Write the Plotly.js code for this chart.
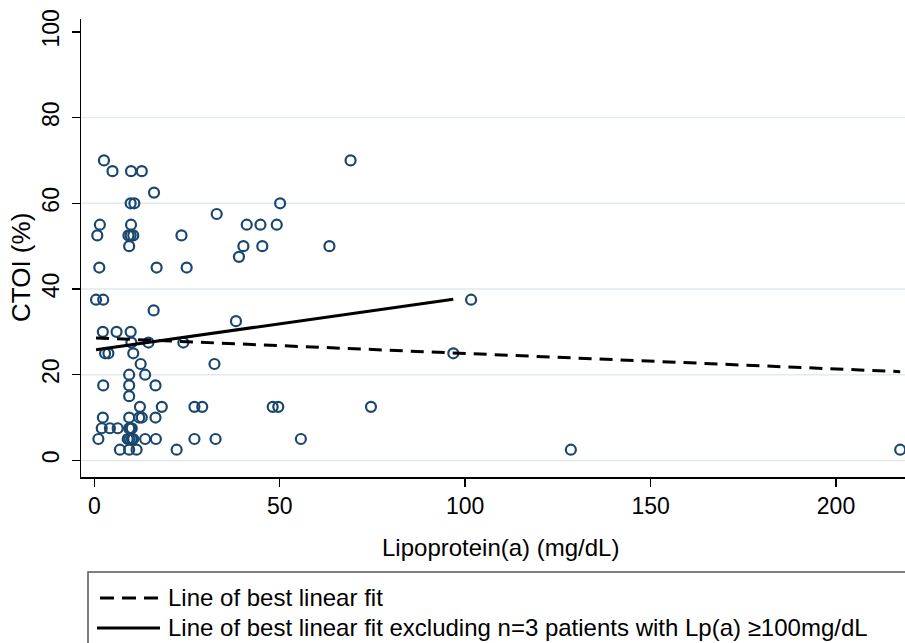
<!DOCTYPE html>
<html>
<head>
<meta charset="utf-8">
<script src="https://cdn.plot.ly/plotly-3.0.1.min.js"></script>
<style>html,body{margin:0;padding:0;background:#fff;}#chart{width:905px;height:643px;}</style>
</head>
<body>
<div id="chart"></div>
<script>
// ---- data ----
var lpa = [
  2.6, 69.1,
  4.9, 9.9, 12.8,
  16.1,
  9.8, 10.8, 50.1,
  33.0,
  1.5, 9.9, 41.1, 44.8, 49.2,
  0.8, 9.2, 9.8, 10.5, 23.5,
  9.4, 40.2, 45.3, 63.4,
  39.0,
  1.35, 16.8, 24.9,
  0.46, 2.4, 101.6,
  16.0,
  38.2,
  2.3, 6.0, 9.8,
  10.0, 14.6, 24.0,
  2.9, 3.8, 10.5, 96.8,
  12.5, 32.4,
  9.4, 13.7,
  2.4, 9.4, 16.5,
  9.4,
  12.3, 18.2, 27.0, 29.1, 48.1, 49.6, 74.6,
  2.3, 9.4, 12.1, 12.8, 16.5,
  2.0, 4.2, 6.3, 9.4, 9.7, 10.1,
  1.1, 9.0, 9.5, 10.1, 10.5, 13.7, 16.6, 27.0, 32.7, 55.7,
  6.9, 9.4, 11.4, 22.2, 128.5, 217.3
];
var ctoi = [
  70, 70,
  67.5, 67.5, 67.5,
  62.5,
  60, 60, 60,
  57.5,
  55, 55, 55, 55, 55,
  52.5, 52.5, 52.5, 52.5, 52.5,
  50, 50, 50, 50,
  47.5,
  45, 45, 45,
  37.5, 37.5, 37.5,
  35,
  32.5,
  30, 30, 30,
  27.5, 27.5, 27.5,
  25, 25, 25, 25,
  22.5, 22.5,
  20, 20,
  17.5, 17.5, 17.5,
  15,
  12.5, 12.5, 12.5, 12.5, 12.5, 12.5, 12.5,
  10, 10, 10, 10, 10,
  7.5, 7.5, 7.5, 7.5, 7.5, 7.5,
  5, 5, 5, 5, 5, 5, 5, 5, 5, 5,
  2.5, 2.5, 2.5, 2.5, 2.5, 2.5
];
// fitted lines (end points)
var fitAllX = [0.46, 217.3];
var fitAllY = [28.58, 20.71];
var fitExclX = [0.46, 96.8];
var fitExclY = [25.83, 37.6];

var xTicks = [0, 50, 100, 150, 200];
var yTicks = [0, 20, 40, 60, 80, 100];
var gridVals = [0, 20, 40, 60, 80];

var xTitle = 'Lipoprotein(a) (mg/dL)';
var yTitle = 'CTOI (%)';
var legendLabels = ['Line of best linear fit',
  'Line of best linear fit excluding n=3 patients with Lp(a) \u2265100mg/dL'];

// ---- layout helpers (pixel -> paper) ----
var W = 905, H = 643;
var M = {l: 81, r: 0, t: 19, b: 166};
var PW = W - M.l - M.r, PH = H - M.t - M.b;
function px(x) { return (x - M.l) / PW; }
function py(y) { return (H - M.b - y) / PH; }

var FONT = '"Liberation Sans", Arial, sans-serif';
var navy = '#1a476f';

var traces = [
  {x: lpa, y: ctoi, type: 'scatter', mode: 'markers',
   marker: {symbol: 'circle-open', size: 10, color: navy, line: {width: 2.2, color: navy}},
   hoverinfo: 'x+y', showlegend: false},
  {x: fitAllX, y: fitAllY, type: 'scatter', mode: 'lines',
   line: {color: '#000', width: 3, dash: '13px,8px'}, showlegend: false},
  {x: fitExclX, y: fitExclY, type: 'scatter', mode: 'lines',
   line: {color: '#000', width: 3}, showlegend: false}
];

var shapes = gridVals.map(function (v) {
  return {type: 'line', xref: 'paper', x0: 0, x1: 1, yref: 'y', y0: v, y1: v,
          line: {color: '#e1eaee', width: 1.5}, layer: 'below'};
});
shapes.push({type: 'rect', xref: 'paper', yref: 'paper',
  x0: px(88), x1: px(930), y0: py(572), y1: py(680),
  line: {color: '#555', width: 1.5}, fillcolor: 'rgba(0,0,0,0)'});
shapes.push({type: 'line', xref: 'paper', yref: 'paper',
  x0: px(100), x1: px(158), y0: py(598), y1: py(598),
  line: {color: '#000', width: 3, dash: '14px,8px'}});
shapes.push({type: 'line', xref: 'paper', yref: 'paper',
  x0: px(97), x1: px(160), y0: py(628), y1: py(628),
  line: {color: '#000', width: 3}});

var annotations = [
  {text: xTitle, xref: 'paper', yref: 'paper', x: px(500), y: py(547),
   xanchor: 'center', yanchor: 'middle', showarrow: false,
   font: {family: FONT, size: 24, color: '#000'}},
  {text: yTitle, xref: 'paper', yref: 'paper', x: px(21), y: py(268),
   xanchor: 'center', yanchor: 'middle', showarrow: false, textangle: -90,
   font: {family: FONT, size: 26, color: '#000'}},
  {text: legendLabels[0], xref: 'paper', yref: 'paper', x: px(166), y: py(597),
   xanchor: 'left', yanchor: 'middle', showarrow: false,
   font: {family: FONT, size: 24, color: '#000'}},
  {text: legendLabels[1], xref: 'paper', yref: 'paper', x: px(166), y: py(627),
   xanchor: 'left', yanchor: 'middle', showarrow: false,
   font: {family: FONT, size: 24, color: '#000'}}
];

var layout = {
  width: W, height: H, margin: M,
  paper_bgcolor: '#fff', plot_bgcolor: '#fff',
  showlegend: false,
  font: {family: FONT, color: '#000'},
  xaxis: {range: [-3.59, 218.6], tickmode: 'array', tickvals: xTicks,
    ticks: 'outside', ticklen: 8, tickwidth: 1.5, tickcolor: '#000',
    showline: true, linecolor: '#000', linewidth: 1.5,
    showgrid: false, zeroline: false,
    tickfont: {family: FONT, size: 23, color: '#000'}},
  yaxis: {range: [-3.87, 103], tickmode: 'array', tickvals: yTicks, tickangle: -90,
    ticks: 'outside', ticklen: 8, tickwidth: 1.5, tickcolor: '#000',
    showline: true, linecolor: '#000', linewidth: 1.5,
    showgrid: false, zeroline: false, ticklabelstandoff: 3,
    tickfont: {family: FONT, size: 23, color: '#000'}},
  shapes: shapes,
  annotations: annotations
};

Plotly.newPlot('chart', traces, layout, {displayModeBar: false, staticPlot: true});
</script>
</body>
</html>
